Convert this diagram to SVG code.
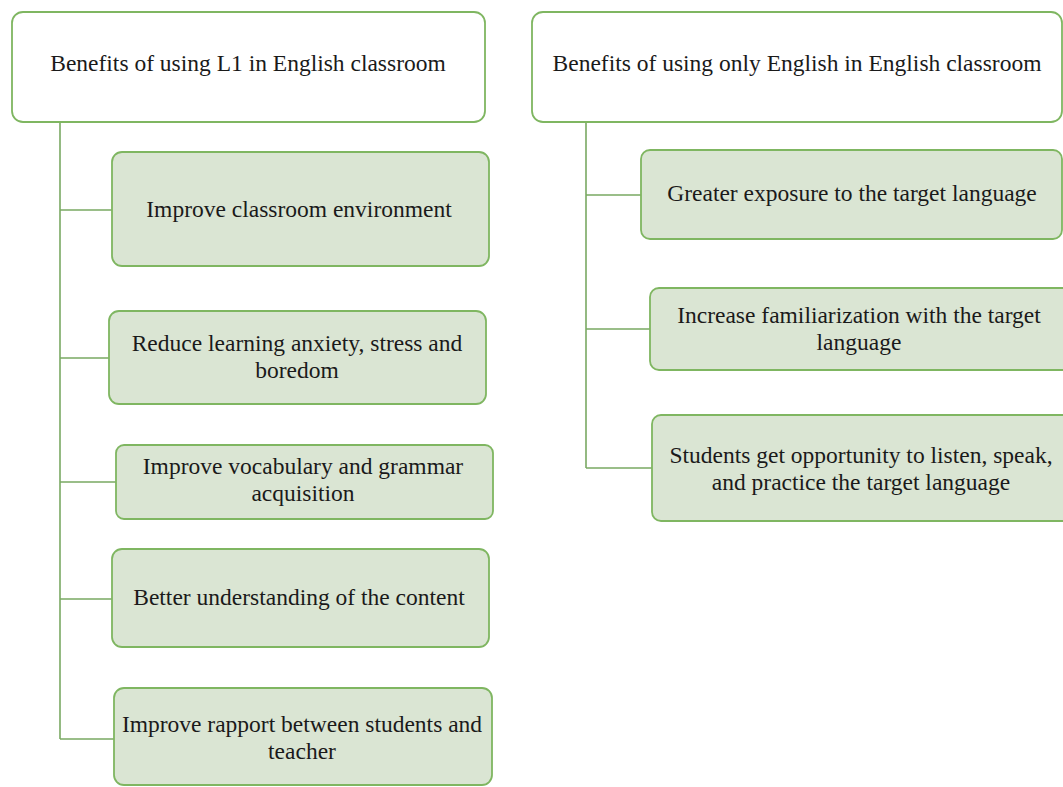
<svg xmlns="http://www.w3.org/2000/svg" width="1063" height="787" viewBox="0 0 1063 787">
<style>
.root{fill:#ffffff;stroke:#7fb661;stroke-width:1.8}
.box{fill:#dae5d3;stroke:#7fb661;stroke-width:1.8}
.c{fill:none;stroke:#7aa963;stroke-width:1.6}
text{font-family:"Liberation Serif","Times New Roman",serif;font-size:23.5px;fill:#1a1a1a;text-anchor:middle}
</style>
<rect width="1063" height="787" fill="#ffffff"/>
<g id="connectors">
<path class="c" d="M60,122 V739 M60,210 H112 M60,358 H109 M60,482 H116 M60,599 H112 M60,739 H114"/>
<path class="c" d="M586,122 V468 M586,195 H641 M586,329 H650 M586,468 H652"/>
</g>
<g id="root-left">
<rect class="root" x="12" y="12" width="473" height="110" rx="11"/>
<text x="248" y="71">Benefits of using L1 in English classroom</text>
</g>
<g id="l1">
<rect class="box" x="112" y="152" width="377" height="114" rx="10"/>
<text x="299" y="217">Improve classroom environment</text>
</g>
<g id="l2">
<rect class="box" x="109" y="311" width="377" height="93" rx="10"/>
<text x="297" y="351">Reduce learning anxiety, stress and</text>
<text x="297" y="378">boredom</text>
</g>
<g id="l3">
<rect class="box" x="116" y="445" width="377" height="74" rx="8"/>
<text x="303" y="474">Improve vocabulary and grammar</text>
<text x="303" y="501">acquisition</text>
</g>
<g id="l4">
<rect class="box" x="112" y="549" width="377" height="98" rx="10"/>
<text x="299" y="605">Better understanding of the content</text>
</g>
<g id="l5">
<rect class="box" x="114" y="688" width="378" height="97" rx="10"/>
<text x="302" y="732">Improve rapport between students and</text>
<text x="302" y="759">teacher</text>
</g>
<g id="root-right">
<rect class="root" x="532" y="12" width="530" height="110" rx="11"/>
<text x="797" y="71">Benefits of using only English in English classroom</text>
</g>
<g id="r1">
<rect class="box" x="641" y="150" width="421" height="89" rx="9"/>
<text x="852" y="201">Greater exposure to the target language</text>
</g>
<g id="r2">
<rect class="box" x="650" y="288" width="430" height="82" rx="9"/>
<text x="859" y="323">Increase familiarization with the target</text>
<text x="859" y="350">language</text>
</g>
<g id="r3">
<rect class="box" x="652" y="415" width="430" height="106" rx="9"/>
<text x="861" y="463">Students get opportunity to listen, speak,</text>
<text x="861" y="490">and practice the target language</text>
</g>
</svg>
